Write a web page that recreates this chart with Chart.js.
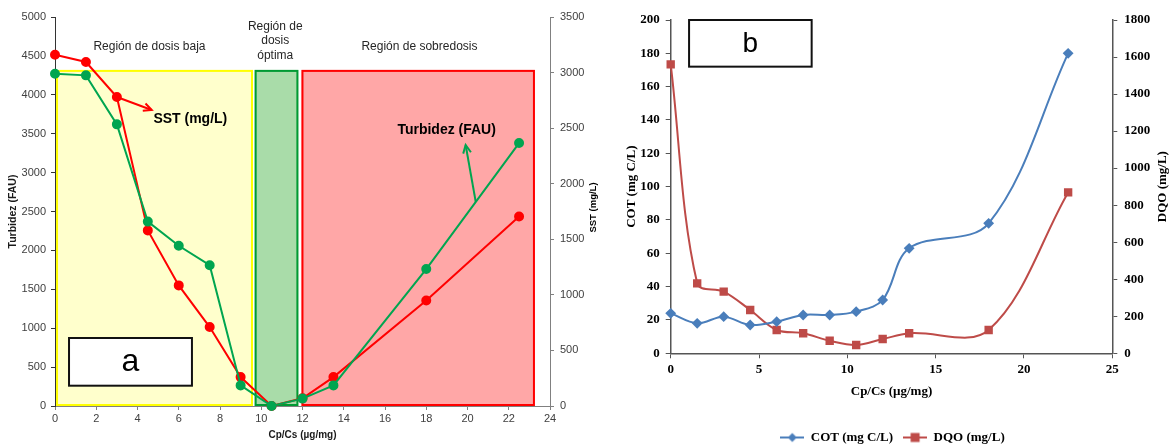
<!DOCTYPE html>
<html><head><meta charset="utf-8">
<script src="https://cdn.jsdelivr.net/npm/chart.js@4.4.1/dist/chart.umd.min.js"></script>
<style>
html,body{margin:0;padding:0;background:#fff;overflow:hidden;width:1169px;height:444px}
#ca{position:absolute;left:0;top:0}
#cb{position:absolute;left:600px;top:0}
</style></head><body>
<canvas id="ca" width="600" height="444"></canvas>
<canvas id="cb" width="569" height="444"></canvas>
<script>
// ---------- Panel a data ----------
const dosisA = [0, 1.5, 3, 4.5, 6, 7.5, 9, 10.5, 12, 13.5, 18, 22.5];
const turbidez = [4270, 4250, 3620, 2370, 2060, 1810, 265, 0, 95, 265, 1760, 3380];
const sst = [3160, 3095, 2780, 1580, 1085, 710, 260, 0, 70, 260, 950, 1705];
const regionStart = [0.05, 9.68, 11.95];
const regionEnd = [9.6, 11.8, 23.27];
const regionTop = 4320;
const regionLabels = ['Región de dosis baja', ['Región de', 'dosis', 'óptima'], 'Región de sobredosis'];
// ---------- Panel b data ----------
const dosisB = [0, 1.5, 3, 4.5, 6, 7.5, 9, 10.5, 12, 13.5, 18, 22.5];
const cot = [24, 18, 22, 17, 19, 23, 23, 25, 32, 63, 78, 180];
const dqo = [1560, 378, 333, 234, 126, 108, 68, 45, 77, 108, 126, 869];

const SANS = '"Liberation Sans", Arial, sans-serif';
const SERIF = '"Liberation Serif", "Times New Roman", serif';
const GREEN = '#00A550', RED = '#FF0000';
const BLUE_B = '#4A7EBB', RED_B = '#BE4B48';
const plain = v => String(v);

function arrow(ctx, x0, y0, x1, y1, color) {
  ctx.strokeStyle = color; ctx.lineWidth = 2;
  ctx.beginPath(); ctx.moveTo(x0, y0); ctx.lineTo(x1, y1); ctx.stroke();
  const a = Math.atan2(y1 - y0, x1 - x0), h = 9;
  ctx.beginPath();
  ctx.moveTo(x1 - h * Math.cos(a - 0.45), y1 - h * Math.sin(a - 0.45));
  ctx.lineTo(x1, y1);
  ctx.lineTo(x1 - h * Math.cos(a + 0.45), y1 - h * Math.sin(a + 0.45));
  ctx.stroke();
}
function vTitle(ctx, text, cx, cy, font) {
  ctx.save();
  ctx.translate(cx, cy); ctx.rotate(-Math.PI / 2);
  ctx.fillStyle = '#000'; ctx.font = font; ctx.textAlign = 'center'; ctx.textBaseline = 'middle';
  ctx.fillText(text, 0, 0);
  ctx.restore();
}

const anotA = {
  id: 'anotA',
  beforeDatasetsDraw(chart) {
    const {ctx, scales: {x, y}} = chart;
    const fills = ['#FFFFCC', '#A9DCA9', '#FFA7A7'];
    const strokes = ['#FFFF00', '#009A33', '#FF0000'];
    ctx.save();
    for (let i = 0; i < regionStart.length; i++) {
      const l = x.getPixelForValue(regionStart[i]), r = x.getPixelForValue(regionEnd[i]);
      const t = y.getPixelForValue(regionTop), b = y.getPixelForValue(0);
      ctx.fillStyle = fills[i]; ctx.fillRect(l, t, r - l, b - t);
      ctx.strokeStyle = strokes[i]; ctx.lineWidth = 2; ctx.strokeRect(l + 1, t + 1, r - l - 2, b - t - 2);
    }
    ctx.restore();
  },
  afterDatasetsDraw(chart) {
    const {ctx, scales: {x, y, y2}} = chart;
    const X = v => x.getPixelForValue(v), Y = v => y.getPixelForValue(v);
    ctx.save();
    ctx.fillStyle = '#262626';
    ctx.font = '12px ' + SANS; ctx.textAlign = 'center'; ctx.textBaseline = 'middle';
    ctx.fillText(regionLabels[0], X(4.58), Y(4618));
    const ys = [4880, 4690, 4500];
    regionLabels[1].forEach((t, i) => ctx.fillText(t, X(10.68), Y(ys[i])));
    ctx.fillText(regionLabels[2], X(17.67), Y(4618));
    ctx.fillStyle = '#000';
    ctx.font = 'bold 14px ' + SANS; ctx.textAlign = 'left';
    ctx.fillText('SST (mg/L)', X(4.77), Y(3685));
    ctx.fillText('Turbidez (FAU)', X(16.6), Y(3548));
    arrow(ctx, X(dosisA[2]), y2.getPixelForValue(sst[2]), X(4.69), Y(3805), RED);
    arrow(ctx, X(20.4), Y(2624), X(19.91), Y(3355), GREEN);
    const l = X(0.68), r = X(6.64), t = Y(874), b = Y(261);
    ctx.fillStyle = '#fff'; ctx.fillRect(l, t, r - l, b - t);
    ctx.strokeStyle = '#111'; ctx.lineWidth = 2; ctx.strokeRect(l, t, r - l, b - t);
    ctx.fillStyle = '#000'; ctx.font = '32px ' + SANS; ctx.textAlign = 'center'; ctx.textBaseline = 'middle';
    ctx.fillText('a', (l + r) / 2, (t + b) / 2);
    ctx.restore();
  },
  afterDraw(chart) {
    const s = chart.scales.y2;
    vTitle(chart.ctx, 'SST (mg/L)', s.right - 7, (s.top + s.bottom) / 2 - 4, 'bold 9.5px ' + SANS);
  }
};

new Chart(document.getElementById('ca'), {
  type: 'line',
  data: {
    datasets: [
      {label: 'Turbidez (FAU)', data: dosisA.map((v, i) => ({x: v, y: turbidez[i]})), yAxisID: 'y',
       borderColor: GREEN, backgroundColor: GREEN, pointBackgroundColor: GREEN, pointBorderColor: GREEN,
       borderWidth: 2, pointRadius: 4, tension: 0, clip: false},
      {label: 'SST (mg/L)', data: dosisA.map((v, i) => ({x: v, y: sst[i]})), yAxisID: 'y2',
       borderColor: RED, backgroundColor: RED, pointBackgroundColor: RED, pointBorderColor: RED,
       borderWidth: 2, pointRadius: 4, tension: 0, clip: false}
    ]
  },
  options: {
    responsive: false, animation: false, devicePixelRatio: 1,
    layout: {padding: {top: 17, left: 0, right: 0, bottom: 0}},
    plugins: {legend: {display: false}, tooltip: {enabled: false}},
    scales: {
      x: {type: 'linear', min: 0, max: 24,
          ticks: {stepSize: 2, callback: plain, color: '#404040', font: {family: SANS, size: 11}, padding: 2},
          grid: {drawOnChartArea: false, drawTicks: true, tickLength: 4, tickColor: '#808080'},
          border: {display: true, color: '#808080', width: 1},
          title: {display: true, text: 'Cp/Cs (µg/mg)', color: '#1a1a1a', font: {family: SANS, size: 10, weight: 'bold'}, padding: {top: 3, bottom: 3}},
          afterFit(s) { s.height = 38; }},
      y: {type: 'linear', position: 'left', min: 0, max: 5000,
          ticks: {stepSize: 500, callback: plain, color: '#404040', font: {family: SANS, size: 11}, padding: 5},
          grid: {drawOnChartArea: false, drawTicks: true, tickLength: 4, tickColor: '#333'},
          border: {display: true, color: '#333', width: 1},
          title: {display: true, text: 'Turbidez (FAU)', color: '#1a1a1a', font: {family: SANS, size: 10.5, weight: 'bold'}, padding: {top: 7, bottom: 0}},
          afterFit(s) { s.width = 55; }},
      y2: {type: 'linear', position: 'right', min: 0, max: 3500,
          ticks: {stepSize: 500, callback: plain, color: '#404040', font: {family: SANS, size: 11}, padding: 6},
          grid: {drawOnChartArea: false, drawTicks: true, tickLength: 4, tickColor: '#808080'},
          border: {display: true, color: '#808080', width: 1},
          title: {display: false},
          afterFit(s) { s.width = 50; }}
    }
  },
  plugins: [anotA]
});

// ---------- Panel b ----------
function legendIcon(color, shape) {
  const c = document.createElement('canvas'); c.width = 24; c.height = 12;
  const g = c.getContext('2d');
  g.strokeStyle = color; g.lineWidth = 2;
  g.beginPath(); g.moveTo(0, 6); g.lineTo(24, 6); g.stroke();
  g.fillStyle = color;
  if (shape === 'd') { g.beginPath(); g.moveTo(12, 1.5); g.lineTo(16.5, 6); g.lineTo(12, 10.5); g.lineTo(7.5, 6); g.closePath(); g.fill(); }
  else g.fillRect(7.5, 1.5, 9, 9);
  return c;
}
const iconCOT = legendIcon(BLUE_B, 'd');
const iconDQO = legendIcon(RED_B, 's');

const anotB = {
  id: 'anotB',
  afterLayout(chart) {
    const lg = chart.legend;
    lg.top += 10; lg.bottom += 10; lg.left += 8; lg.right += 8;
  },
  afterDatasetsDraw(chart) {
    const {ctx, scales: {x, y}} = chart;
    const l = x.getPixelForValue(1.04), r = x.getPixelForValue(7.98);
    const t = y.getPixelForValue(200), b = y.getPixelForValue(172);
    ctx.save();
    ctx.fillStyle = '#fff'; ctx.fillRect(l, t, r - l, b - t);
    ctx.strokeStyle = '#111'; ctx.lineWidth = 2; ctx.strokeRect(l, t, r - l, b - t);
    ctx.fillStyle = '#000'; ctx.font = '28px ' + SANS; ctx.textAlign = 'center'; ctx.textBaseline = 'middle';
    ctx.fillText('b', (l + r) / 2, (t + b) / 2 + 1);
    ctx.restore();
  },
  afterDraw(chart) {
    const s = chart.scales.y2;
    vTitle(chart.ctx, 'DQO (mg/L)', s.right - 6, (s.top + s.bottom) / 2, 'bold 13px ' + SERIF);
  }
};

new Chart(document.getElementById('cb'), {
  type: 'line',
  data: {
    datasets: [
      {label: 'COT (mg C/L)', data: dosisB.map((v, i) => ({x: v, y: cot[i]})), yAxisID: 'y',
       borderColor: BLUE_B, backgroundColor: BLUE_B, pointBackgroundColor: BLUE_B, pointBorderColor: BLUE_B,
       pointStyle: 'rectRot', pointRadius: 4, borderWidth: 2, tension: 0.35, clip: false},
      {label: 'DQO (mg/L)', data: dosisB.map((v, i) => ({x: v, y: dqo[i]})), yAxisID: 'y2',
       borderColor: RED_B, backgroundColor: RED_B, pointBackgroundColor: RED_B, pointBorderColor: RED_B,
       pointStyle: 'rect', pointRadius: 4.5, borderWidth: 2, tension: 0.35, clip: false}
    ]
  },
  options: {
    responsive: false, animation: false, devicePixelRatio: 1,
    layout: {padding: {top: 20, left: 0, right: 0, bottom: 0}},
    plugins: {
      tooltip: {enabled: false},
      legend: {display: true, position: 'bottom',
        labels: {usePointStyle: true, pointStyleWidth: 24, padding: 10, color: '#000',
          font: {family: SERIF, size: 13, weight: 'bold'},
          generateLabels(chart) {
            const items = Chart.defaults.plugins.legend.labels.generateLabels(chart);
            items[0].pointStyle = iconCOT; items[1].pointStyle = iconDQO;
            return items;
          }}}
    },
    scales: {
      x: {type: 'linear', min: 0, max: 25,
          ticks: {stepSize: 5, callback: plain, color: '#000', font: {family: SERIF, size: 13, weight: 'bold'}, padding: 4},
          grid: {drawOnChartArea: false, drawTicks: true, tickLength: 5, tickColor: '#555'},
          border: {display: true, color: '#555', width: 1.5},
          title: {display: true, text: 'Cp/Cs (µg/mg)', color: '#000', font: {family: SERIF, size: 13, weight: 'bold'}, padding: {top: 0, bottom: 12}},
          afterFit(s) { s.height = 57.7; }},
      y: {type: 'linear', position: 'left', min: 0, max: 200,
          ticks: {stepSize: 20, callback: plain, color: '#000', font: {family: SERIF, size: 13, weight: 'bold'}, padding: 6},
          grid: {drawOnChartArea: false, drawTicks: true, tickLength: 5, tickColor: '#555'},
          border: {display: true, color: '#555', width: 1.5},
          title: {display: true, text: 'COT (mg C/L)', color: '#000', font: {family: SERIF, size: 13, weight: 'bold'}, padding: {top: 24, bottom: 0}},
          afterFit(s) { s.width = 70.7; }},
      y2: {type: 'linear', position: 'right', min: 0, max: 1800,
          ticks: {stepSize: 200, callback: plain, color: '#000', font: {family: SERIF, size: 13, weight: 'bold'}, padding: 7},
          grid: {drawOnChartArea: false, drawTicks: true, tickLength: 5, tickColor: '#555'},
          border: {display: true, color: '#555', width: 1.5},
          title: {display: false},
          afterFit(s) { s.width = 56.7; }}
    }
  },
  plugins: [anotB]
});
</script>
</body></html>
